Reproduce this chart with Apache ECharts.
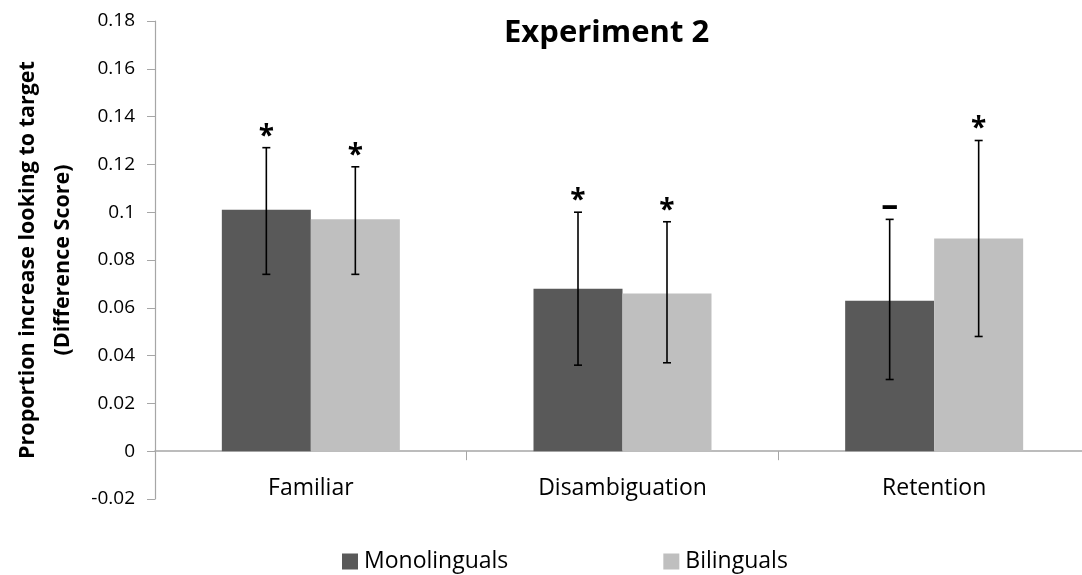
<!DOCTYPE html>
<html>
<head>
<meta charset="utf-8">
<script src="https://cdn.jsdelivr.net/npm/echarts@6/dist/echarts.min.js"></script>
<style>html,body{margin:0;padding:0;background:#fff}#c{width:1082px;height:575px}</style>
</head>
<body>
<div id="c"></div>
<script>
var categories = ['Familiar', 'Disambiguation', 'Retention'];
var seriesNames = ['Monolinguals', 'Bilinguals'];
var monoValues = [0.101, 0.068, 0.063];
var biValues = [0.097, 0.066, 0.089];
var monoLow = [0.074, 0.036, 0.030];
var monoHigh = [0.127, 0.100, 0.097];
var biLow = [0.074, 0.037, 0.048];
var biHigh = [0.119, 0.096, 0.130];
var monoMarks = ['*', '*', '\u2013'];
var biMarks = ['*', '*', '*'];
var yTicks = { min: -0.02, max: 0.18, interval: 0.02 };

var FONT = '"Open Sans", "Noto Sans", sans-serif';
var BAR_W = 89;

var errData = [];
for (var i = 0; i < categories.length; i++) {
  errData.push([i, 0, monoLow[i], monoHigh[i], monoMarks[i]]);
  errData.push([i, 1, biLow[i], biHigh[i], biMarks[i]]);
}

function renderErr(params, api) {
  var ci = api.value(0), si = api.value(1);
  var lo = api.coord([ci, api.value(2)]);
  var hi = api.coord([ci, api.value(3)]);
  var x = lo[0] + (si === 0 ? -BAR_W / 2 : BAR_W / 2);
  var cap = 4;
  var mark = errData[params.dataIndex][4];
  var st = { stroke: '#000', lineWidth: 1.6 };
  var isDash = mark !== '*';
  return {
    type: 'group',
    children: [
      { type: 'line', shape: { x1: x, y1: hi[1], x2: x, y2: lo[1] }, style: st },
      { type: 'line', shape: { x1: x - cap, y1: hi[1], x2: x + cap, y2: hi[1] }, style: st },
      { type: 'line', shape: { x1: x - cap, y1: lo[1], x2: x + cap, y2: lo[1] }, style: st },
      { type: 'text', x: x, y: hi[1] - (isDash ? 13 : 11),
        style: { text: mark, fill: '#000', font: 'bold ' + (isDash ? 34 : 28) + 'px ' + FONT,
                 align: 'center', verticalAlign: 'middle' } }
    ]
  };
}

var chart = echarts.init(document.getElementById('c'));
chart.setOption({
  animation: false,
  backgroundColor: '#fff',
  title: {
    text: 'Experiment 2', left: 499, top: 13,
    textStyle: { fontFamily: FONT, fontWeight: 'bold', fontSize: 31, color: '#000' }
  },
  legend: {
    bottom: -3, left: 337, itemGap: 155, itemWidth: 16, itemHeight: 16,
    icon: 'rect', data: seriesNames,
    textStyle: { fontFamily: FONT, fontSize: 23, color: '#000', padding: [0, 0, 0, 1] }
  },
  grid: { left: 155, top: 21, bottom: 76, width: 935, containLabel: false, outerBoundsMode: 'none' },
  xAxis: {
    type: 'category', data: categories,
    axisLine: { onZero: true, lineStyle: { color: '#a6a6a6', width: 1.5 } },
    axisTick: { show: true, length: 9, lineStyle: { color: '#a6a6a6' } },
    axisLabel: { margin: -22, fontFamily: FONT, fontSize: 23, color: '#000' }
  },
  yAxis: {
    type: 'value', min: yTicks.min, max: yTicks.max, interval: yTicks.interval,
    name: 'Proportion increase looking to target\n(Difference Score)',
    nameLocation: 'middle', nameGap: 75, nameRotate: 90,
    nameTextStyle: { fontFamily: FONT, fontWeight: 'bold', fontSize: 21.5, color: '#000', lineHeight: 35, align: 'center' },
    axisLine: { show: true, lineStyle: { color: '#a6a6a6', width: 1.2 } },
    axisTick: { show: true, inside: false, length: 8, lineStyle: { color: '#a6a6a6' } },
    splitLine: { show: false },
    axisLabel: { margin: 20, fontFamily: FONT, fontSize: 19, color: '#000',
      formatter: function (v) { return String(parseFloat(v.toFixed(2))); } }
  },
  series: [
    { name: seriesNames[0], type: 'bar', data: monoValues, barWidth: BAR_W, barGap: '0%',
      itemStyle: { color: '#595959' } },
    { name: seriesNames[1], type: 'bar', data: biValues, barWidth: BAR_W, barGap: '0%',
      itemStyle: { color: '#bfbfbf' } },
    { type: 'custom', renderItem: renderErr, data: errData,
      encode: { x: 0, y: [2, 3] }, z: 10, silent: true }
  ]
});
</script>
</body>
</html>
